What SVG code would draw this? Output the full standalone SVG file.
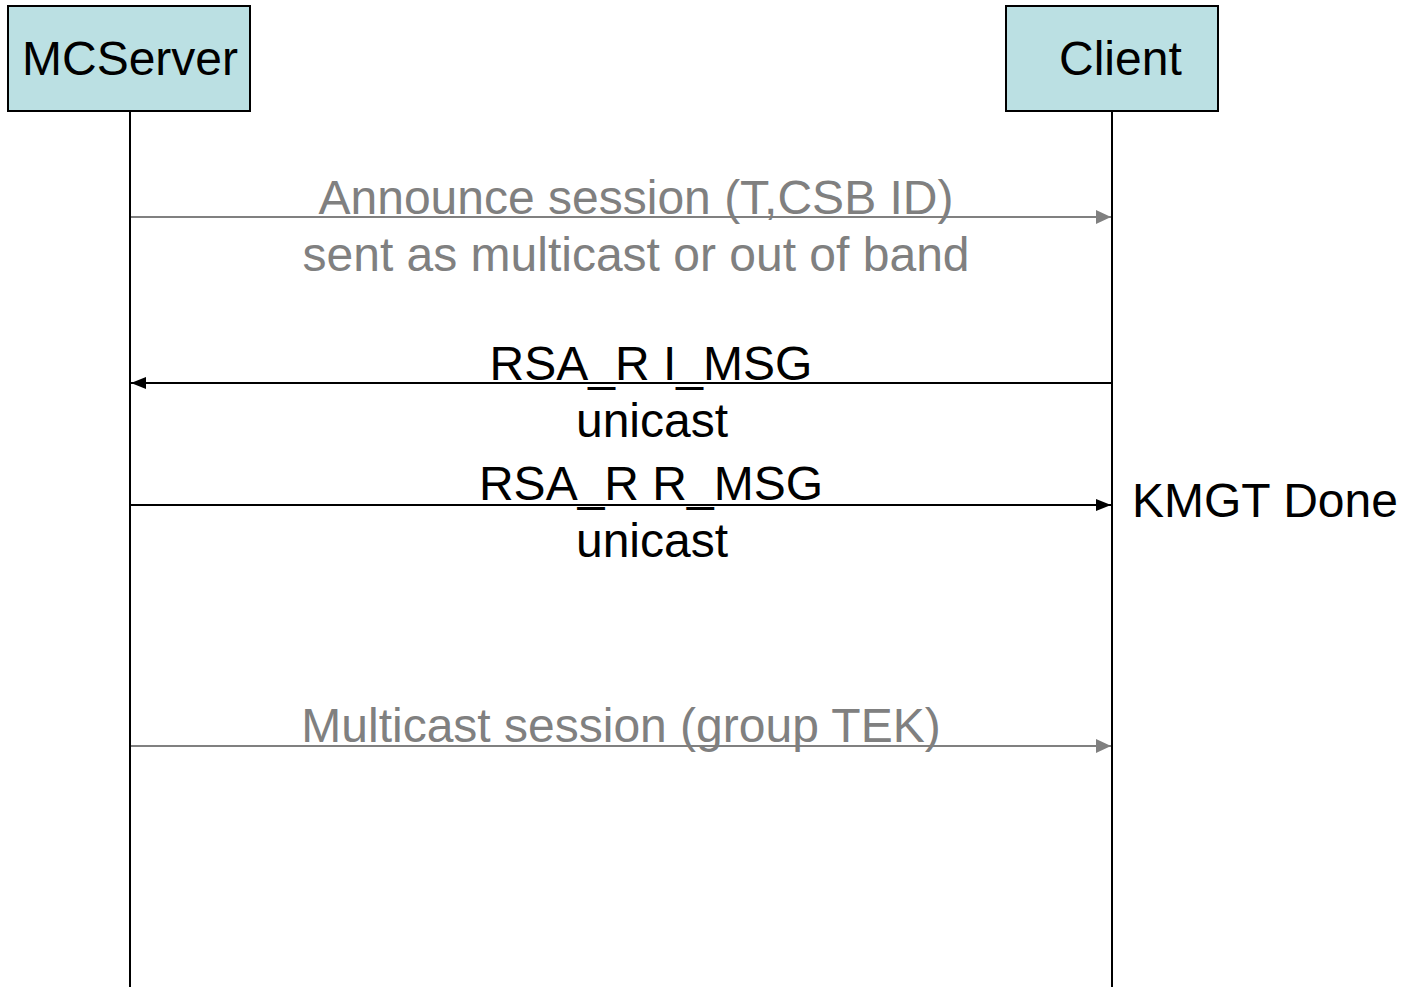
<svg xmlns="http://www.w3.org/2000/svg" width="1405" height="987" viewBox="0 0 1405 987">
<style>
.box{fill:#bbe0e3;stroke:#000;stroke-width:2}
.life{stroke:#000;stroke-width:2}
.t{font-family:"Liberation Sans",Arial,sans-serif;font-size:48px}
.blk{fill:#000}
.gry{fill:#808080}
.lg{stroke:#808080;stroke-width:2}
.lb{stroke:#000;stroke-width:2}
</style>
<defs>
<marker id="ag" markerUnits="userSpaceOnUse" markerWidth="16" markerHeight="16" refX="15" refY="8" orient="auto">
<path d="M0,1 L15,8 L0,15 z" fill="#808080"/>
</marker>
<marker id="ab" markerUnits="userSpaceOnUse" markerWidth="16" markerHeight="14" refX="15" refY="7" orient="auto">
<path d="M0,1 L15,7 L0,13 z" fill="#000"/>
</marker>
</defs>
<rect width="1405" height="987" fill="#fff"/>
<g id="mcserver">
<rect class="box" x="8" y="6" width="242" height="105"/>
<text class="t blk" x="130" y="75" text-anchor="middle">MCServer</text>
<line class="life" x1="130" y1="111" x2="130" y2="987"/>
</g>
<g id="client">
<rect class="box" x="1006" y="6" width="212" height="105"/>
<text class="t blk" x="1059" y="75">Client</text>
<line class="life" x1="1112" y1="111" x2="1112" y2="987"/>
</g>
<g id="connectors">
<line class="lg" x1="131" y1="217" x2="1111" y2="217" marker-end="url(#ag)"/>
<line class="lb" x1="1111" y1="383" x2="131" y2="383" marker-end="url(#ab)"/>
<line class="lb" x1="131" y1="505" x2="1111" y2="505" marker-end="url(#ab)"/>
<line class="lg" x1="131" y1="746" x2="1111" y2="746" marker-end="url(#ag)"/>
</g>
<g id="labels">
<text class="t gry" x="636" y="214" text-anchor="middle">Announce session (T,CSB ID)</text>
<text class="t gry" x="636" y="271" text-anchor="middle">sent as multicast or out of band</text>
<text class="t blk" x="651" y="380" text-anchor="middle">RSA_R I_MSG</text>
<text class="t blk" x="652" y="437" text-anchor="middle">unicast</text>
<text class="t blk" x="651" y="500" text-anchor="middle">RSA_R R_MSG</text>
<text class="t blk" x="652" y="557" text-anchor="middle">unicast</text>
<text class="t blk" x="1132" y="517">KMGT Done</text>
<text class="t gry" x="621" y="742" text-anchor="middle">Multicast session (group TEK)</text>
</g>
</svg>
